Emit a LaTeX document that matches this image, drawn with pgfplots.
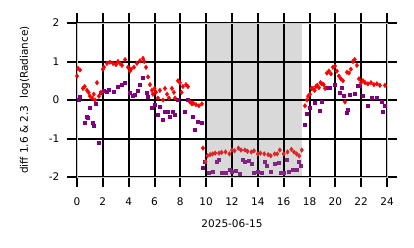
\documentclass[border=0pt]{standalone}
\usepackage{pgfplots}
\pgfplotsset{compat=1.18}
\usepackage{fontspec}
\setmainfont{DejaVu Sans}
\definecolor{mypurple}{HTML}{800080}
\definecolor{shpurple}{HTML}{802680}
\definecolor{shred}{HTML}{D92626}
\definecolor{spangray}{HTML}{D9D9D9}
\pgfplotsset{
  layers/spanfirst/.define layer set={axis background,pre main,axis grid,axis ticks,axis lines,axis tick labels,main,axis descriptions,axis foreground}{},
}
\begin{document}
\fontsize{10.5bp}{12bp}\selectfont
\begin{tikzpicture}
\begin{axis}[
  set layers=spanfirst,
  scale only axis, width=310bp, height=154bp,
  xmin=0, xmax=24, ymin=-2, ymax=2,
  xtick={0,2,...,24}, ytick={-2,-1,0,1,2},
  xmajorgrids=true, ymajorgrids=true,
  grid style={draw=black, line width=2bp},
  axis line style={draw=gray!40, line width=1pt},
  tick align=outside, major tick length=10bp,
  tick style={draw=black, line width=2bp},
  tick label style={font=\fontsize{10.5bp}{12bp}\selectfont},
  /pgf/number format/assume math mode=true,
  xlabel={2025-06-15},
  ylabel={diff 1.6 \& 2.3\ \ log(Radiance)},
  xlabel style={at={(axis description cs:0.5,-0.30)}, anchor=center},
  ylabel style={at={(axis description cs:-0.168,0.5)}, anchor=center},
  xticklabel style={yshift=-7bp},
  yticklabel style={xshift=-4bp},
]
\addplot[fill=spangray, draw=none, on layer=pre main] coordinates {(9.92,-2) (17.42,-2) (17.42,2) (9.92,2)} -- cycle;
% purple outside shaded span
\addplot[only marks, mark=square*, mark size=1.5bp, color=mypurple] coordinates {
(0.15,0.0) (0.23,0.08) (0.62,-0.58) (0.77,-0.43) (0.85,-0.45) (1.0,-0.2) (1.24,-0.6) (1.28,-0.68)
(1.47,-0.1) (1.70,-1.1) (1.86,0.2) (2.09,0.25) (2.32,0.22) (2.48,0.28) (2.86,0.22) (3.17,0.35)
(3.48,0.4) (3.72,0.45) (4.1,0.2) (4.33,0.1) (4.49,0.15) (4.72,0.25) (4.88,0.4) (5.11,0.58)
(5.42,0.2) (5.5,0.08) (5.8,-0.2) (6.04,-0.12) (6.27,-0.37) (6.42,-0.17) (6.66,-0.5) (6.81,-0.3)
(7.04,-0.3) (7.2,-0.43) (7.43,-0.3) (7.59,-0.38) (7.82,0.0) (8.36,-0.3) (8.59,0.0) (8.98,-0.43)
(9.13,-0.78) (9.37,-0.57) (9.67,-0.6)
(9.75,-1.75) (9.85,-1.6)
(17.65,-0.63) (17.8,-0.35) (18.03,-0.2) (18.42,-0.07) (18.81,-0.27) (18.96,-0.05) (19.35,0.32)
(19.58,0.32) (19.97,0.4) (20.36,0.2) (20.51,0.32) (20.67,0.1) (20.9,-0.33) (20.98,-0.25) (21.13,0.15)
(21.5,0.17) (21.75,0.38) (21.9,0.38) (22.14,0.1) (22.52,-0.15) (22.83,0.05) (23.22,0.05) (23.6,-0.05)
(23.68,-0.3) (23.84,-0.15)
};
% purple inside shaded span
\addplot[only marks, mark=square*, mark size=1.5bp, color=shpurple] coordinates {
(10.2,-1.9) (10.5,-1.85) (10.8,-1.6) (11.0,-1.55) (11.2,-1.88) (11.5,-1.9)
(11.8,-1.8) (12.0,-1.85) (12.3,-1.83) (12.6,-1.92) (12.8,-1.55) (13.0,-1.6) (13.3,-1.58) (13.5,-1.65)
(13.7,-1.9) (14.0,-1.85) (14.3,-1.9) (14.5,-1.6) (14.7,-1.7) (15.0,-1.85) (15.3,-1.65) (15.6,-1.62)
(15.8,-1.9) (16.0,-1.88) (16.2,-1.55) (16.4,-1.85) (16.7,-1.8) (17.0,-1.82) (17.2,-1.6) (17.35,-1.7)
};
% red outside shaded span
\addplot[only marks, mark=diamond*, mark size=2.3bp, color=red] coordinates {
(0.0,0.62) (0.08,0.82) (0.23,0.78) (0.46,0.3) (0.6,0.35) (0.77,0.25) (0.9,0.2) (1.0,0.1) (1.16,0.05)
(1.3,0.15) (1.39,0.0) (1.55,0.45) (1.7,0.1) (1.86,0.2) (2.0,0.8) (2.09,0.85) (2.32,0.95) (2.55,0.98)
(2.79,0.95) (3.02,0.92) (3.17,1.0) (3.33,0.95) (3.48,0.9) (3.72,1.05) (3.95,0.85) (4.1,0.75) (4.18,0.8)
(4.41,0.85) (4.64,0.95) (4.88,1.02) (5.11,1.08) (5.2,1.0) (5.34,0.85) (5.5,0.6) (5.65,0.4) (5.8,0.25)
(5.88,0.15) (6.0,0.3) (6.11,0.2) (6.27,0.05) (6.42,0.25) (6.66,0.0) (6.81,0.3) (6.97,0.15) (7.12,0.05)
(7.35,0.3) (7.5,0.2) (7.59,0.05) (7.82,0.5) (7.97,0.45) (8.1,0.2) (8.2,0.35) (8.44,0.4) (8.59,0.35)
(8.75,-0.05) (8.9,-0.1) (9.0,-0.08) (9.21,-0.12) (9.44,-0.15) (9.67,-0.1)
(9.75,-1.25)
(17.65,-0.15) (17.8,0.0) (17.9,0.1) (18.03,0.15) (18.15,0.3) (18.27,0.3) (18.4,0.25) (18.5,0.35)
(18.6,0.38) (18.73,0.32) (18.85,0.45) (18.96,0.42) (19.1,0.4) (19.2,0.3) (19.35,0.7) (19.5,0.75)
(19.66,0.68) (19.81,0.85) (19.97,0.88) (20.12,0.75) (20.28,0.62) (20.43,0.55) (20.59,0.5) (20.74,-0.05)
(20.9,0.72) (21.05,0.7) (21.2,0.8) (21.36,1.0) (21.5,1.05) (21.67,0.9) (21.83,0.55) (21.98,0.45)
(22.14,0.5) (22.3,0.45) (22.52,0.42) (22.76,0.45) (22.99,0.4) (23.22,0.42) (23.45,0.38) (23.84,0.38)
};
% red inside shaded span
\addplot[only marks, mark=diamond*, mark size=2.3bp, color=shred] coordinates {
(9.95,-1.6) (10.1,-1.45) (10.3,-1.42) (10.5,-1.4) (10.7,-1.38) (11.0,-1.38) (11.2,-1.36)
(11.5,-1.35) (11.8,-1.4) (12.0,-1.3) (12.2,-1.32) (12.5,-1.25) (12.7,-1.3) (13.0,-1.3) (13.2,-1.33)
(13.5,-1.35) (13.7,-1.32) (14.0,-1.4) (14.2,-1.38) (14.5,-1.4) (14.8,-1.42) (15.0,-1.45) (15.3,-1.4)
(15.5,-1.4) (15.7,-1.3) (16.0,-1.4) (16.3,-1.35) (16.6,-1.28) (16.8,-1.35) (17.0,-1.4) (17.2,-1.45)
(17.4,-1.3)
};
\end{axis}
\pgfresetboundingbox
\path[use as bounding box] (-77bp,-71bp) rectangle (337bp,177bp);
\end{tikzpicture}
\end{document}
